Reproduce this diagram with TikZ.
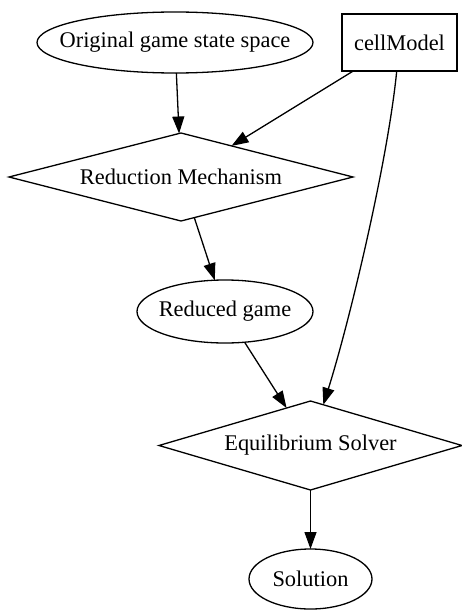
\documentclass[tikz,border=0pt]{standalone}
\usepackage{fontspec}
\setmainfont{Liberation Serif}
\usetikzlibrary{shapes.geometric,arrows.meta}
\begin{document}
\begin{tikzpicture}[x=1pt,y=-1pt,
  font=\fontsize{22.4}{27}\selectfont,
  shp/.style={draw,line width=1.3pt,inner sep=0pt,outer sep=0pt},
  oval/.style={shp,ellipse},
  rhomb/.style={shp,diamond},
  box/.style={shp,rectangle},
  link/.style={line width=1.3pt,-{Triangle[length=17pt,width=12pt]}}]
\useasboundingbox (0,0) rectangle (461,610);
\node[oval,minimum width=276pt,minimum height=61pt] (orig) at (175,42.5) {\makebox[0pt]{Original game state space}};
\node[box,minimum width=115pt,minimum height=57pt] (cell) at (399.5,42.5) {\makebox[0pt]{cellModel}};
\node[rhomb,minimum width=344pt,minimum height=88pt] (red) at (181,177) {\makebox[0pt]{Reduction Mechanism}};
\node[oval,minimum width=176pt,minimum height=63pt] (rg) at (225,311.5) {\makebox[0pt]{Reduced game}};
\node[rhomb,minimum width=303pt,minimum height=89pt] (eq) at (310.5,445.5) {\makebox[0pt]{Equilibrium Solver}};
\node[oval,minimum width=123pt,minimum height=60pt] (sol) at (310.5,579) {\makebox[0pt]{Solution}};
\draw[link] (orig) -- (red);
\draw[link] (cell) -- (red);
\draw[link] (cell) .. controls (388,160) and (350,320) .. (eq);
\draw[link] (red) -- (rg);
\draw[link] (rg) -- (eq);
\draw[link] (eq) -- (sol);
\end{tikzpicture}
\end{document}
